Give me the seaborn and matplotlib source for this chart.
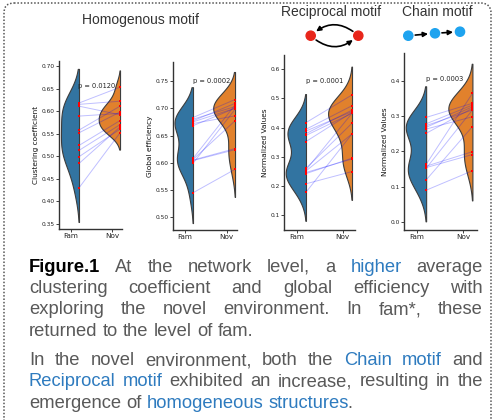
import matplotlib
matplotlib.use("Agg")
import matplotlib.pyplot as plt
import seaborn as sns
import numpy as np
import pandas as pd
from matplotlib.patches import FancyBboxPatch, FancyArrowPatch, Circle
from matplotlib.collections import PolyCollection

sns.set_theme(style="white")
plt.rcParams['font.family'] = ['DejaVu Sans']

# ---------------- data ----------------
conditions = ["Fam", "Nov"]

clust_fam = [0.618, 0.615, 0.611, 0.589, 0.558, 0.552, 0.524, 0.513, 0.499, 0.484, 0.430]
clust_nov = [0.653, 0.622, 0.592, 0.595, 0.611, 0.598, 0.579, 0.570, 0.560, 0.565, 0.552]

geff_fam = [0.683, 0.680, 0.677, 0.675, 0.672, 0.668, 0.608, 0.606, 0.605, 0.604, 0.599, 0.545]
geff_nov = [0.716, 0.703, 0.709, 0.700, 0.686, 0.700, 0.706, 0.677, 0.626, 0.624, 0.698, 0.588]

recip_fam = [0.417, 0.394, 0.388, 0.379, 0.373, 0.352, 0.260, 0.255, 0.251, 0.246, 0.242, 0.207, 0.178]
recip_nov = [0.512, 0.475, 0.455, 0.460, 0.449, 0.452, 0.415, 0.449, 0.378, 0.292, 0.295, 0.249, 0.378]

chain_fam = [0.296, 0.278, 0.273, 0.268, 0.263, 0.251, 0.163, 0.158, 0.154, 0.152, 0.119, 0.090]
chain_nov = [0.336, 0.331, 0.317, 0.326, 0.298, 0.322, 0.364, 0.199, 0.191, 0.317, 0.270, 0.145]

p_values = ["p = 0.0120", "p = 0.0002", "p = 0.0001", "p = 0.0003"]
p_text_y = [0.656, 0.7505, 0.560, 0.404]
y_labels = ["Clustering coefficient", "Global efficiency", "Normalized Values", "Normalized Values"]
y_tick_sets = [
    [0.35, 0.40, 0.45, 0.50, 0.55, 0.60, 0.65, 0.70],
    [0.50, 0.55, 0.60, 0.65, 0.70, 0.75],
    [0.1, 0.2, 0.3, 0.4, 0.5, 0.6],
    [0.0, 0.1, 0.2, 0.3, 0.4],
]
y_tick_fmt = ["{:.2f}", "{:.2f}", "{:.1f}", "{:.1f}"]
panel_titles = ["Homogenous motif", "Reciprocal motif", "Chain motif"]

# ---------------- style / layout ----------------
BLUE = "#3274a1"
ORANGE = "#e1812c"
EDGE = "#3d3d3d"

fig = plt.figure(figsize=(4.97, 4.20), dpi=100)

rects = [
    [0.1187, 0.4548, 0.1262, 0.4000],
    [0.3481, 0.4524, 0.1282, 0.4007],
    [0.5714, 0.4524, 0.1429, 0.4167],
    [0.8129, 0.4524, 0.1463, 0.4207],
]
xlims = [(-0.488, 1.041), (-0.476, 1.040), (-0.478, 1.065), (-0.478, 1.093)]
ylims = [(0.3389, 0.7111), (0.4767, 0.7854), (0.0485, 0.649), (-0.0226, 0.4775)]
p_text_x = [-0.03, 0.0, 0.0, 0.0]

datasets = [(clust_fam, clust_nov), (geff_fam, geff_nov),
            (recip_fam, recip_nov), (chain_fam, chain_nov)]


def keep_left_half(ax, before, pos):
    """Put the flat side of the half violin(s) added after `before` on `pos`,
    with the density curve extending to the left."""
    for coll in ax.collections[before:]:
        if not isinstance(coll, PolyCollection):
            continue
        for path in coll.get_paths():
            v = path.vertices
            x = v[:, 0].copy()
            lo, hi = np.nanmin(x), np.nanmax(x)
            n_lo = np.sum(np.isclose(x, lo))
            n_hi = np.sum(np.isclose(x, hi))
            flat = lo if n_lo >= n_hi else hi
            v[:, 0] = pos - np.abs(x - flat)


for i, (fam, nov) in enumerate(datasets):
    ax = fig.add_axes(rects[i])
    ax.set_facecolor("none")
    n = len(fam)
    df = pd.DataFrame({
        "subject": list(range(n)) * 2,
        "cond": ["Fam"] * n + ["Nov"] * n,
        "value": list(fam) + list(nov),
    })
    df["pos"] = df["cond"].map({c: k for k, c in enumerate(conditions)})

    for cond, color, w in [("Fam", BLUE, 0.44), ("Nov", ORANGE, 0.52)]:
        before = len(ax.collections)
        sns.violinplot(data=df[df["cond"] == cond], x="cond", y="value",
                       order=conditions, split=True, inner=None,
                       density_norm="width", width=w, color=color,
                       saturation=1, linecolor=EDGE, linewidth=0.8, ax=ax)
        keep_left_half(ax, before, conditions.index(cond))

    sns.lineplot(data=df, x="pos", y="value", units="subject", estimator=None,
                 color="blue", alpha=0.25, linewidth=0.7, ax=ax, legend=False)
    sns.scatterplot(data=df, x="pos", y="value", marker="s", color="red",
                    s=3.5, linewidth=0, ax=ax, legend=False, zorder=4)

    ax.text(p_text_x[i], p_text_y[i], p_values[i], fontsize=4.8,
            ha="left", va="center", color="#222222", zorder=5)

    ax.set_xlim(*xlims[i])
    ax.set_ylim(*ylims[i])
    ax.set_xticks([k - 0.2 for k in range(len(conditions))])
    ax.set_xticklabels(conditions)
    ax.set_yticks(y_tick_sets[i])
    ax.set_yticklabels([y_tick_fmt[i].format(v) for v in y_tick_sets[i]])
    ax.set_xlabel("")
    ax.set_ylabel(y_labels[i], fontsize=5.3, labelpad=2, color="#111111")
    ax.tick_params(axis="y", labelsize=4.2, length=2, width=0.6, pad=1,
                   left=True, colors="#222222")
    ax.tick_params(axis="x", labelsize=5.2, length=2, width=0.6, pad=1,
                   bottom=True, colors="#222222")
    sns.despine(ax=ax)
    for s in ("left", "bottom"):
        ax.spines[s].set_linewidth(1.0)
        ax.spines[s].set_color("#333333")

# ---------------- overlay: border, titles, motifs, caption ----------------
ov = fig.add_axes([0, 0, 1, 1], zorder=-1)
ov.set_xlim(0, 497)
ov.set_ylim(420, 0)
ov.axis("off")
ov.set_facecolor("none")

border = FancyBboxPatch((4, 3), 487, 440, boxstyle="round,pad=0,rounding_size=10",
                        fill=False, linestyle=(0, (1, 1.2)), linewidth=1.1,
                        edgecolor="#555555")
ov.add_patch(border)

TITLE_FONT = ["Liberation Sans", "DejaVu Sans"]
ov.text(141, 20, panel_titles[0], fontsize=10, ha="center", va="center",
        color="#333333", family=TITLE_FONT)
ov.text(331, 12, panel_titles[1], fontsize=10, ha="center", va="center",
        color="#333333", family=TITLE_FONT)
ov.text(437.5, 12, panel_titles[2], fontsize=10, ha="center", va="center",
        color="#333333", family=TITLE_FONT)

# reciprocal motif icon
RED = "#e8261b"
CYAN = "#1ea3ef"
r_nodes = [(310.7, 35.7), (358.3, 35.7)]
for (x, y) in r_nodes:
    ov.add_patch(Circle((x, y), 4.6, color=RED, zorder=3))
for a, b in [(r_nodes[1], r_nodes[0]), (r_nodes[0], r_nodes[1])]:
    ov.add_patch(FancyArrowPatch(a, b, connectionstyle="arc3,rad=0.45",
                                 arrowstyle="-|>", mutation_scale=7,
                                 lw=1.2, color="black", shrinkA=5, shrinkB=5,
                                 zorder=2))
# chain motif icon
c_nodes = [(408.3, 35.7), (435.0, 33.3), (460.0, 31.7)]
for (x, y) in c_nodes:
    ov.add_patch(Circle((x, y), 4.6, color=CYAN, zorder=3))
for a, b in zip(c_nodes[:-1], c_nodes[1:]):
    ov.add_patch(FancyArrowPatch(a, b, arrowstyle="-|>", mutation_scale=7,
                                 lw=1.2, color="black", shrinkA=5, shrinkB=5,
                                 zorder=2))

# caption (justified)
GRAY = "#595959"
CBLUE = "#2e7bbf"
CAP_FONT = ["Liberation Sans", "DejaVu Sans"]
CAP_SIZE = 13.2
X0, X1 = 29, 483

caption_lines = [
    ([("Figure.1", "black", "bold"), ("At the network level, a", GRAY, "normal"),
      ("higher", CBLUE, "normal"), ("average", GRAY, "normal")], False, 271.5),
    ([("clustering coefficient and global efficiency with", GRAY, "normal")], False, 293.0),
    ([("exploring the novel environment. In fam*, these", GRAY, "normal")], False, 314.5),
    ([("returned to the level of fam.", GRAY, "normal")], True, 336.0),
    ([("In the novel environment, both the", GRAY, "normal"),
      ("Chain motif", CBLUE, "normal"), ("and", GRAY, "normal")], False, 365.0),
    ([("Reciprocal motif", CBLUE, "normal"),
      ("exhibited an increase, resulting in the", GRAY, "normal")], False, 386.5),
    ([("emergence of", GRAY, "normal"), ("homogeneous structures", CBLUE, "normal"),
      ("\x00.", GRAY, "normal")], True, 408.0),
]

fig.canvas.draw()
renderer = fig.canvas.get_renderer()


def measure(s, weight="normal"):
    t = ov.text(0, 0, s, fontsize=CAP_SIZE, family=CAP_FONT, fontweight=weight)
    w = t.get_window_extent(renderer=renderer).width
    t.remove()
    return w


space_w = measure("a a") - measure("aa")

for segs, last, base in caption_lines:
    tokens = []  # (word, color, weight, joined)
    for txt, col, wt in segs:
        joined_first = txt.startswith("\x00")
        txt = txt.replace("\x00", "")
        for k, w in enumerate(txt.split(" ")):
            tokens.append((w, col, wt, joined_first and k == 0))
    widths = []
    for k, (w, col, wt, j) in enumerate(tokens):
        if j and k > 0:
            prev = tokens[k - 1][0]
            widths.append(measure(prev + w, wt) - measure(prev, wt))
        else:
            widths.append(measure(w, wt))
    gaps = sum(1 for k, tk in enumerate(tokens) if k > 0 and not tk[3])
    total = sum(widths)
    gap = space_w if (last or gaps == 0) else (X1 - X0 - total) / gaps
    x = X0
    xs_prev = X0
    for k, ((w, col, wt, j), wd) in enumerate(zip(tokens, widths)):
        if k > 0 and not j:
            x += gap
        if j and k > 0:
            prev = tokens[k - 1][0]
            x = xs_prev + measure(prev + w, wt) - measure(w, wt) - 1.2
        ov.text(x, base, w, fontsize=CAP_SIZE, family=CAP_FONT, color=col,
                fontweight=wt, ha="left", va="baseline")
        xs_prev = x
        x += wd if not j else measure(w, wt)

fig.savefig("out.png", dpi=100)
